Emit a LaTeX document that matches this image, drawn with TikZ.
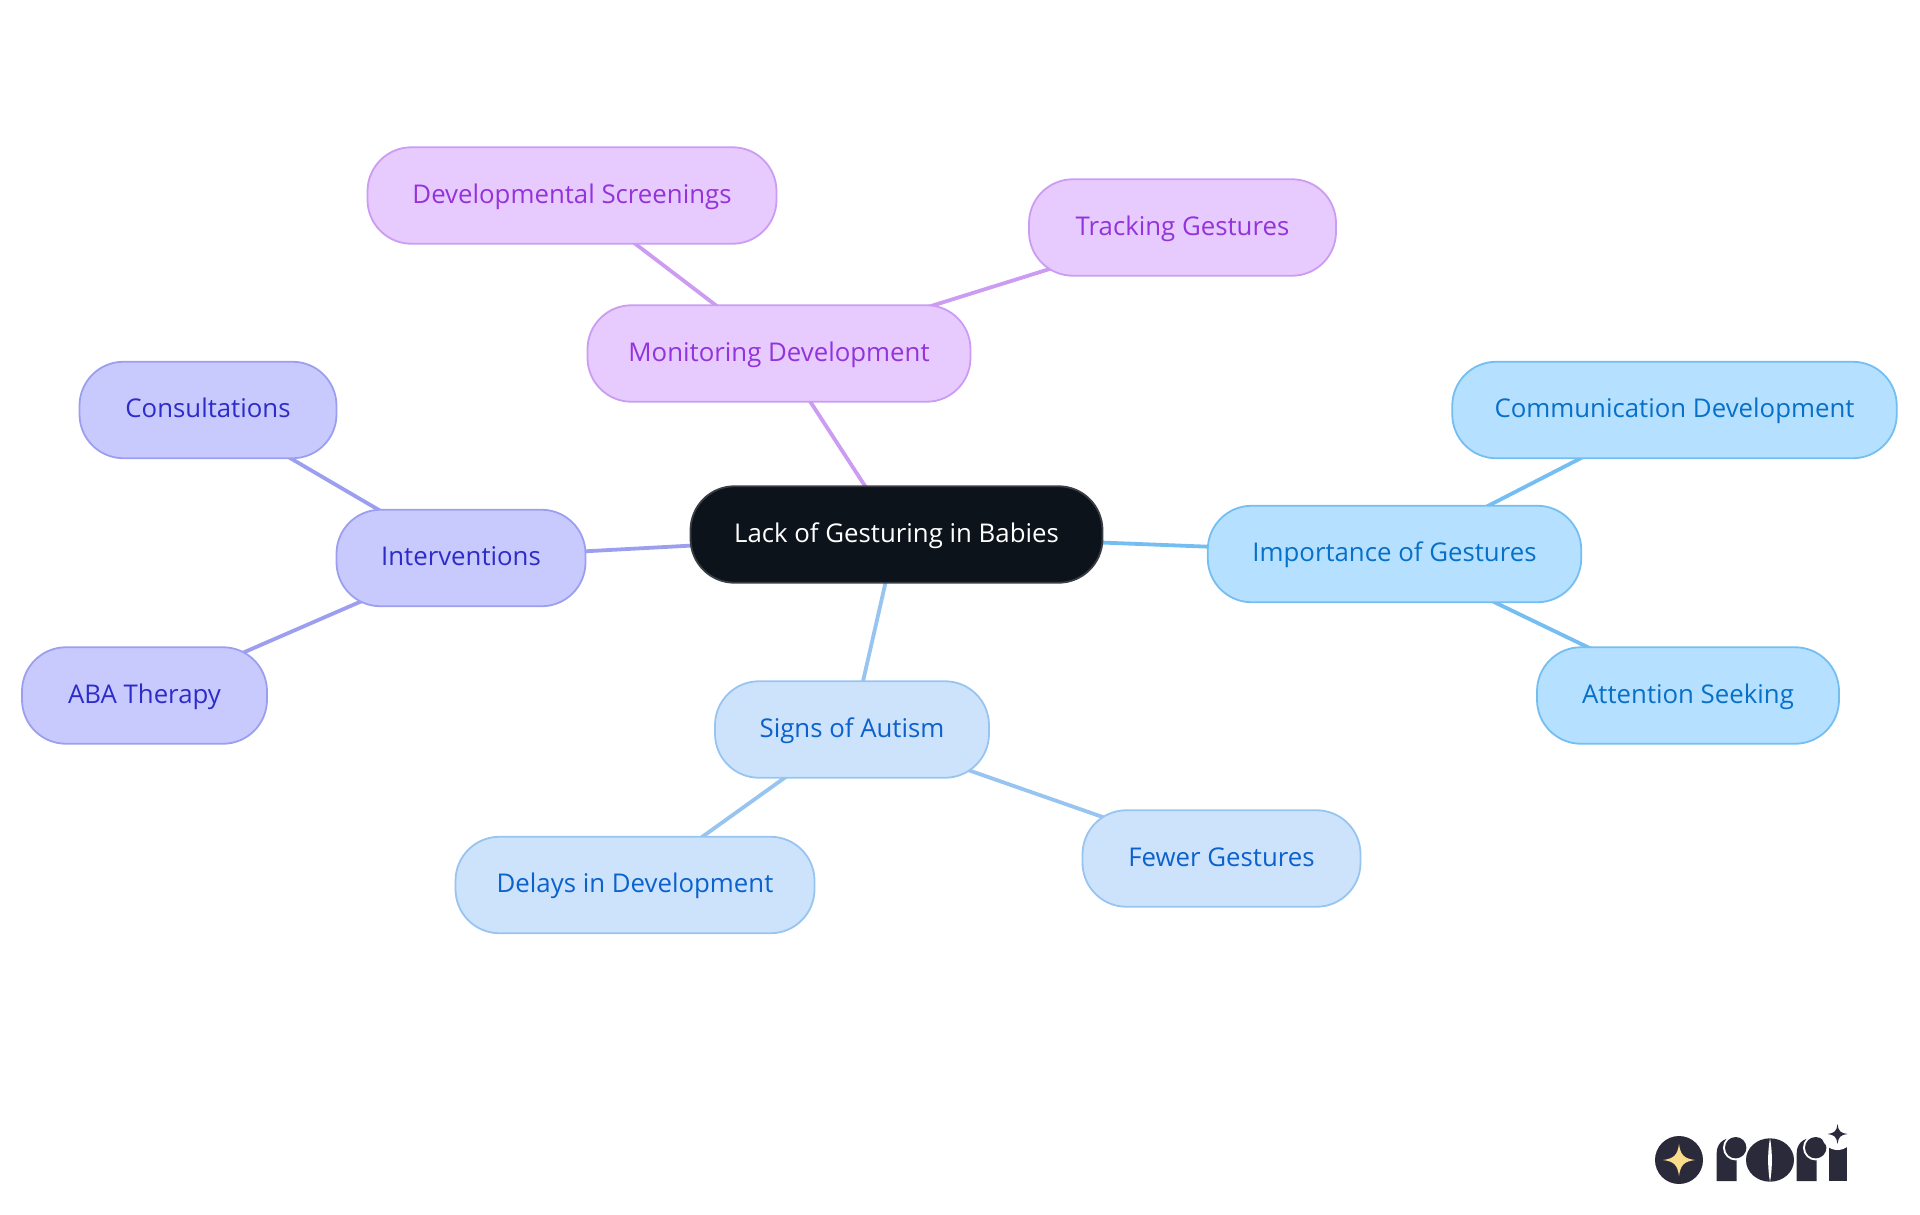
\documentclass[tikz,border=0pt]{standalone}
\usepackage{fontspec}
\setmainfont{Open Sans}
\usetikzlibrary{backgrounds}
\definecolor{rootfill}{HTML}{0D131B}
\definecolor{rootline}{HTML}{3A3E44}
\definecolor{violetfill}{HTML}{E7CBFF}
\definecolor{violetline}{HTML}{CB9CF2}
\definecolor{violettext}{HTML}{9333DB}
\definecolor{indigofill}{HTML}{C8CAFE}
\definecolor{indigoline}{HTML}{9C9FF0}
\definecolor{indigotext}{HTML}{2E2CC9}
\definecolor{azurefill}{HTML}{CDE3FC}
\definecolor{azureline}{HTML}{98C4F0}
\definecolor{azuretext}{HTML}{0B62CC}
\definecolor{skyfill}{HTML}{B6E0FF}
\definecolor{skyline}{HTML}{74BEF1}
\definecolor{skytext}{HTML}{0770C8}
\definecolor{logodark}{HTML}{2A2A3A}
\definecolor{logostar}{HTML}{FBDB8C}
\begin{document}
\begin{tikzpicture}[x=1pt,y=-1pt]
    \tikzstyle{topic}=[rectangle,draw,line width=1.8pt,rounded corners=44pt,minimum height=96.5pt,inner sep=0pt,
        text height=19pt,text depth=4pt,font=\fontsize{25.8}{30}\selectfont]
    \tikzstyle{root}=[topic,fill=rootfill,draw=rootline,text=white]
    \tikzstyle{violet}=[topic,fill=violetfill,draw=violetline,text=violettext]
    \tikzstyle{indigo}=[topic,fill=indigofill,draw=indigoline,text=indigotext]
    \tikzstyle{azure}=[topic,fill=azurefill,draw=azureline,text=azuretext]
    \tikzstyle{sky}=[topic,fill=skyfill,draw=skyline,text=skytext]
    \tikzstyle{link}=[line width=3.8pt]
    \useasboundingbox (0,0) rectangle (1920,1215);

    % Centre of the map
    \node (gesturing)[root,minimum width=412pt] at (896.5,534.5) {Lack of Gesturing in Babies};

    % Monitoring branch
    \node (monitoring)[violet,minimum width=383pt] at (779,353.5) {Monitoring Development};
    \node (screenings)[violet,minimum width=409pt] at (572,195.5) {Developmental Screenings};
    \node (tracking)[violet,minimum width=307pt] at (1182.5,227.5) {Tracking Gestures};

    % Interventions branch
    \node (interventions)[indigo,minimum width=249pt] at (461,558) {Interventions};
    \node (consultations)[indigo,minimum width=257pt] at (208,410) {Consultations};
    \node (aba)[indigo,minimum width=245pt] at (144.5,695.5) {ABA Therapy};

    % Signs branch
    \node (signs)[azure,minimum width=274pt] at (852,729.5) {Signs of Autism};
    \node (delays)[azure,minimum width=359pt] at (635,885) {Delays in Development};
    \node (fewer)[azure,minimum width=278pt] at (1221.5,858.5) {Fewer Gestures};

    % Importance branch
    \node (importance)[sky,minimum width=373.5pt] at (1394.5,554) {Importance of Gestures};
    \node (communication)[sky,minimum width=444.5pt] at (1674.5,410) {Communication Development};
    \node (attention)[sky,minimum width=302pt] at (1688,695.5) {Attention Seeking};

    % Links run behind the boxes
    \begin{pgfonlayer}{background}
        \draw[link,violetline] (gesturing.center) -- (monitoring.center);
        \draw[link,violetline] (monitoring.center) -- (screenings.center);
        \draw[link,violetline] (monitoring.center) -- (tracking.center);
        \draw[link,indigoline] (gesturing.center) -- (interventions.center);
        \draw[link,indigoline] (interventions.center) -- (consultations.center);
        \draw[link,indigoline] (interventions.center) -- (aba.center);
        \draw[link,azureline] (gesturing.center) -- (signs.center);
        \draw[link,azureline] (signs.center) -- (delays.center);
        \draw[link,azureline] (signs.center) -- (fewer.center);
        \draw[link,skyline] (gesturing.center) -- (importance.center);
        \draw[link,skyline] (importance.center) -- (communication.center);
        \draw[link,skyline] (importance.center) -- (attention.center);
    \end{pgfonlayer}

    % Logo: disc with star
    \fill[logodark] (1679,1160) circle (24);
    \fill[logostar] (1679,1144) .. controls (1680.5,1155) and (1684,1158.5) .. (1695,1160)
        .. controls (1684,1161.5) and (1680.5,1165) .. (1679,1176)
        .. controls (1677.5,1165) and (1674,1161.5) .. (1663,1160)
        .. controls (1674,1158.5) and (1677.5,1155) .. (1679,1144) -- cycle;

    % Logo: the two r letters
    \foreach \dx in {0,80}{
        \begin{scope}[shift={(\dx,0)}]
            \fill[logodark] (1716.7,1181) -- (1716.7,1153) .. controls (1716.7,1144) and (1723,1138.3) .. (1731,1138.3)
                -- (1736.7,1138.3) -- (1736.7,1181) -- cycle;
            \fill[white] (1735.7,1147.7) circle (12.7);
            \fill[logodark] (1735.7,1147.7) circle (10.7);
        \end{scope}
    }

    % Logo: the o letter with its slit
    \fill[logodark] (1770,1160) ellipse (24 and 21.7);
    \fill[white] (1770,1138) .. controls (1772.5,1152) and (1772.5,1168) .. (1770,1182)
        .. controls (1767.5,1168) and (1767.5,1152) .. (1770,1138) -- cycle;

    % Logo: the i letter with its star
    \fill[logodark] (1829,1146.7) rectangle (1846.7,1181);
    \fill[white] (1837.5,1134) circle (16);
    \fill[logodark] (1837.5,1124) .. controls (1838.3,1131) and (1840.5,1133.2) .. (1847.5,1134)
        .. controls (1840.5,1134.8) and (1838.3,1137) .. (1837.5,1144)
        .. controls (1836.7,1137) and (1834.5,1134.8) .. (1827.5,1134)
        .. controls (1834.5,1133.2) and (1836.7,1131) .. (1837.5,1124) -- cycle;
\end{tikzpicture}
\end{document}
